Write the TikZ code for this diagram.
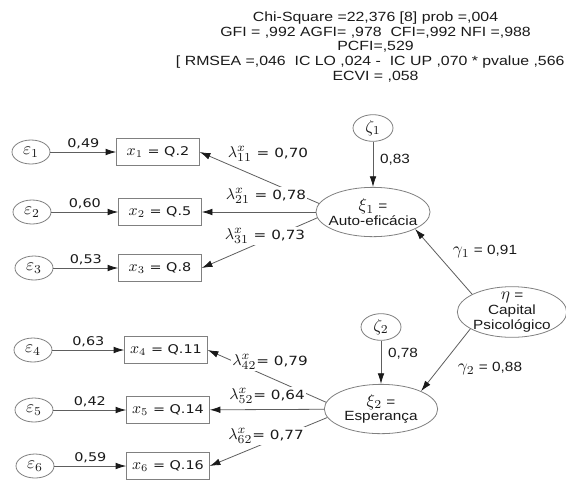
\documentclass[tikz,border=0pt]{standalone}
\usepackage{fontspec}
\usepackage{graphicx}
\setmainfont[FakeStretch=1.15]{Liberation Sans}
\newfontfamily\amos[FakeStretch=1.19]{Liberation Sans}
\newfontfamily\verdana[FakeStretch=1.2]{DejaVu Sans}
\usetikzlibrary{arrows.meta,shapes.geometric}
\definecolor{ink}{HTML}{1A1A1A}
\definecolor{edge}{HTML}{5E5E5E}
\definecolor{rim}{HTML}{808080}
\newcommand{\stat}{\fontsize{10}{11}\selectfont}
\newcommand{\coef}{\verdana\fontsize{9}{10.5}\selectfont}
\newcommand{\mv}[1]{\scalebox{1.3}{$#1$}}
\tikzset{
 every node/.append style={font=\stat,text=ink,align=center},
 latent/.style={ellipse,draw=rim,line width=.6pt,inner sep=0pt},
 errvar/.style={latent,minimum width=28.5pt,minimum height=18pt},
 dist/.style={latent,minimum width=30pt,minimum height=20pt},
 factor/.style={latent,inner xsep=-3pt,inner ysep=-1.5pt,minimum width=85pt,minimum height=37pt},
 item/.style={draw=rim,line width=.6pt,minimum width=62pt,minimum height=20pt,inner sep=1pt,font=\coef},
 flow/.style={-{Latex[length=8pt,width=5pt,color=ink]},draw=edge,line width=.6pt},
 weight/.style={font=\coef,inner sep=2pt},
 loading/.style={font=\verdana\fontsize{9.5}{11}\selectfont,fill=white,inner sep=1pt},
 estimate/.style={inner sep=1pt},
}

\begin{document}
\begin{tikzpicture}[x=0.75pt,y=-0.75pt]
\useasboundingbox[fill=white] (0,0) rectangle (566,479);

\node[anchor=north east,inner sep=2pt,font=\amos\stat] (fit) at (578,9) {
  Chi-Square =22,376 [8] prob =,004\\
  GFI = ,992 AGFI= ,978~ CFI=,992 NFI =,988\\
  PCFI=,529\\
  {[} RMSEA =,046~ IC LO ,024 -~ IC UP ,070 * pvalue ,566 *\hspace*{9pt}\\
  ECVI = ,058};

% indicators of xi1
\node[errvar] (e1) at (31,152) {\mv{\varepsilon_1}};
\node[item] (x1) at (158,152) {\mv{x_1} = Q.2};
\node[errvar] (e2) at (32,212) {\mv{\varepsilon_2}};
\node[item] (x2) at (160,212) {\mv{x_2} = Q.5};
\node[errvar] (e3) at (34,268) {\mv{\varepsilon_3}};
\node[item] (x3) at (160,268) {\mv{x_3} = Q.8};

% indicators of xi2
\node[errvar] (e4) at (33,350) {\mv{\varepsilon_4}};
\node[item] (x4) at (166,350) {\mv{x_4} = Q.11};
\node[errvar] (e5) at (34,410) {\mv{\varepsilon_5}};
\node[item] (x5) at (168,410) {\mv{x_5} = Q.14};
\node[errvar] (e6) at (35,466) {\mv{\varepsilon_6}};
\node[item] (x6) at (168,466) {\mv{x_6} = Q.16};

% latent variables
\node[dist] (z1) at (373,128) {\mv{\zeta_1}};
\node[factor] (xi1) at (373,212) {\mv{\xi_1} =\\Auto-eficácia};
\node[dist] (z2) at (381,327) {\mv{\zeta_2}};
\node[factor] (xi2) at (381,409) {\mv{\xi_2} =\\Esperança};
\node[factor,inner ysep=-3.5pt,minimum width=82pt,minimum height=38pt] (eta) at (512,312) {\mv{\eta} =\\Capital\\Psicológico};

\draw[flow] (e1) -- node[weight,above] {0,49} (x1);
\draw[flow] (e2) -- node[weight,above] {0,60} (x2);
\draw[flow] (e3) -- node[weight,above] {0,53} (x3);
\draw[flow] (e4) -- node[weight,above] {0,63} (x4);
\draw[flow] (e5) -- node[weight,above] {0,42} (x5);
\draw[flow] (e6) -- node[weight,above] {0,59} (x6);

\draw[flow] (xi1.171) -- (x1.east);
\draw[flow] (xi1) -- (x2);
\draw[flow] (xi1.186) -- (x3.east);
\draw[flow] (xi2.173) -- (x4.east);
\draw[flow] (xi2) -- (x5);
\draw[flow] (xi2.189) -- (x6.east);

\draw[flow] (z1) -- node[estimate,right=4pt,pos=.4] {0,83} (xi1);
\draw[flow] (z2) -- node[estimate,right=4pt,pos=.3] {0,78} (xi2);
\draw[flow] (eta.156) -- (xi1.338);
\draw[flow] (eta.202) -- (xi2.24);
\node[estimate] (g1) at (485,252) {\mv{\gamma_1} = 0,91};
\node[estimate] (g2) at (490,369) {\mv{\gamma_2} = 0,88};

\node[loading] (l11) at (268,154) {\mv{\lambda^x_{11}} = 0,70};
\node[loading] (l21) at (266,196) {\mv{\lambda^x_{21}} = 0,78};
\node[loading] (l31) at (265,236) {\mv{\lambda^x_{31}} = 0,73};
\node[loading] (l42) at (270,362) {\mv{\lambda^x_{42}}= 0,79};
\node[loading] (l52) at (267,396) {\mv{\lambda^x_{52}}= 0,64};
\node[loading] (l62) at (266,436) {\mv{\lambda^x_{62}}= 0,77};

\end{tikzpicture}
\end{document}
